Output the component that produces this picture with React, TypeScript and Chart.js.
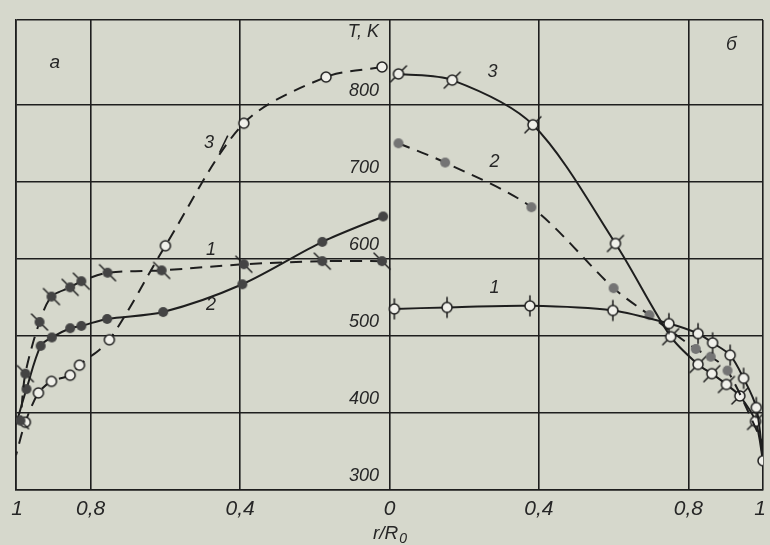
import React, { useEffect, useRef } from "react";
import { Chart, registerables } from "chart.js";
Chart.register(...registerables);

// ---- data (r/R0, T in K) ----
// Panel "а" (left, r/R0 runs from 1 on the left to 0 in the middle; plotted at x = -r)
const leftR1 = [0.02, 0.18, 0.39, 0.61, 0.755, 0.825, 0.855, 0.905, 0.937, 0.975, 0.988];
const leftT1 = [597, 597, 593, 585, 582, 571, 563, 551, 518, 451, 390];
const leftR2 = [0.017, 0.18, 0.394, 0.606, 0.756, 0.825, 0.855, 0.904, 0.934, 0.972, 1.0];
const leftT2 = [655, 622, 567, 531, 522, 513, 510, 498, 487, 431, 385];
const leftR3 = [0.02, 0.17, 0.39, 0.6, 0.75, 0.83, 0.855, 0.905, 0.94, 0.975, 1.0];
const leftT3 = [849, 836, 776, 617, 495, 462, 449, 441, 426, 388, 345];
// Panel "б" (right, r/R0 from 0 to 1)
const rightR1 = [0.013, 0.154, 0.376, 0.598, 0.748, 0.826, 0.865, 0.912, 0.948, 0.982, 1.0];
const rightT1 = [535, 537, 539, 533, 516, 503, 491, 475, 445, 407, 338];
const rightR2 = [0.024, 0.149, 0.38, 0.6, 0.696, 0.82, 0.86, 0.905, 1.0];
const rightT2 = [750, 725, 667, 562, 527, 483, 473, 455, 360];
const rightR3 = [0.024, 0.168, 0.384, 0.605, 0.753, 0.826, 0.863, 0.902, 0.938, 0.98, 1.0];
const rightT3 = [840, 832, 774, 620, 499, 463, 451, 437, 422, 389, 338];

// axis ticks
const xTickValues = [-1, -0.8, -0.4, 0, 0.4, 0.8, 1];
const xTickLabels = ["1", "0,8", "0,4", "0", "0,4", "0,8", "1"];
const yGridValues = [300, 400, 500, 600, 700, 800, 910];
const yTickLabels = ["300", "400", "500", "600", "700", "800"];

const BG = "#d6d8cc";
const INK = "#1e1e1e";
const TEXT = "#262626";
const FONT = '"Liberation Sans", Arial, sans-serif';

function makeMarker(kind: string): HTMLCanvasElement {
  const c = document.createElement("canvas");
  c.width = 26;
  c.height = 26;
  const g = c.getContext("2d")!;
  const m = 13;
  g.lineWidth = 1.5;
  g.strokeStyle = INK;
  g.lineCap = "round";
  if (kind === "openV") {
    g.beginPath(); g.moveTo(m, m - 10); g.lineTo(m, m + 10); g.stroke();
  }
  if (kind === "openD") {
    g.beginPath(); g.moveTo(m - 8, m + 8); g.lineTo(m + 8, m - 8); g.stroke();
  }
  if (kind === "filledD") {
    g.beginPath(); g.moveTo(m - 8, m - 8); g.lineTo(m + 8, m + 8); g.stroke();
  }
  g.beginPath();
  g.arc(m, m, 5, 0, Math.PI * 2);
  if (kind.startsWith("open")) {
    g.fillStyle = "#f0f0ea";
    g.fill();
    g.stroke();
  } else if (kind === "grey") {
    g.fillStyle = "#747474";
    g.fill();
  } else {
    g.fillStyle = "#444444";
    g.fill();
  }
  return c;
}

function pts(rs: number[], ts: number[], sign: number) {
  return rs.map((r, i) => ({ x: sign * r, y: ts[i] }));
}

function radii(n: number, lastHidden: boolean) {
  return Array.from({ length: n }, (_, i) => (lastHidden && i === n - 1 ? 0 : 5));
}

export default function App() {
  const ref = useRef<HTMLCanvasElement>(null);

  useEffect(() => {
    document.body.style.margin = "0";
    document.body.style.background = BG;
    const mOpen = makeMarker("open");
    const mOpenV = makeMarker("openV");
    const mOpenD = makeMarker("openD");
    const mFilled = makeMarker("filled");
    const mFilledD = makeMarker("filledD");
    const mGrey = makeMarker("grey");

    const line = (data: any[], dash: number[], style: HTMLCanvasElement, r: number[]) => ({
      data,
      showLine: true,
      borderColor: INK,
      borderWidth: 2,
      borderDash: dash,
      tension: 0.3,
      pointStyle: style,
      pointRadius: r,
      pointHoverRadius: r,
      fill: false,
    });

    const annot = {
      id: "annot",
      beforeDraw(chart: any) {
        const { ctx, width, height } = chart;
        ctx.save();
        ctx.fillStyle = BG;
        ctx.fillRect(0, 0, width, height);
        ctx.restore();
      },
      afterDraw(chart: any) {
        const { ctx } = chart;
        const xs = chart.scales.x;
        const ys = chart.scales.y;
        const X = (v: number) => xs.getPixelForValue(v);
        const Y = (v: number) => ys.getPixelForValue(v);
        ctx.save();
        ctx.fillStyle = TEXT;
        // x tick labels
        ctx.font = `italic 21px ${FONT}`;
        ctx.textAlign = "center";
        ctx.textBaseline = "alphabetic";
        xTickValues.forEach((v, i) => {
          let px = X(v);
          if (i === 0) px += 1;
          if (i === xTickValues.length - 1) px -= 3;
          ctx.fillText(xTickLabels[i], px, chart.chartArea.bottom + 25);
        });
        // temperature labels
        ctx.font = `italic 18px ${FONT}`;
        ctx.textAlign = "right";
        yTickLabels.forEach((s) => {
          ctx.fillText(s, X(-0.028), Y(Number(s)) - 9);
        });
        ctx.fillText("T, K", X(-0.028), Y(888));
        // panel letters
        ctx.textAlign = "center";
        ctx.textBaseline = "middle";
        ctx.font = `italic 19px ${FONT}`;
        ctx.fillText("а", X(-0.896), Y(855));
        ctx.fillText("б", X(0.915), Y(878));
        // curve numbers
        ctx.font = `italic 18px ${FONT}`;
        ctx.fillText("3", X(-0.483), Y(750));
        ctx.fillText("1", X(-0.478), Y(612));
        ctx.fillText("2", X(-0.478), Y(540));
        ctx.fillText("3", X(0.276), Y(842));
        ctx.fillText("2", X(0.281), Y(726));
        ctx.fillText("1", X(0.281), Y(562));
        // leader tick next to left "3"
        ctx.strokeStyle = INK;
        ctx.lineWidth = 1.6;
        ctx.beginPath();
        ctx.moveTo(X(-0.455), Y(738));
        ctx.lineTo(X(-0.433), Y(760));
        ctx.stroke();
        // axis title r/R0
        const cx = X(0);
        const by = chart.height - 6;
        ctx.textAlign = "left";
        ctx.textBaseline = "alphabetic";
        ctx.font = `italic 19px ${FONT}`;
        const main = "r/R";
        const w = ctx.measureText(main).width;
        ctx.font = `italic 14px ${FONT}`;
        const w0 = ctx.measureText("0").width;
        const start = cx - (w + w0) / 2;
        ctx.font = `italic 19px ${FONT}`;
        ctx.fillText(main, start, by);
        ctx.font = `italic 14px ${FONT}`;
        ctx.fillText("0", start + w + 1, by + 4);
        ctx.restore();
      },
    };

    const chart = new Chart(ref.current!, {
      type: "scatter",
      data: {
        datasets: [
          line(pts(leftR1, leftT1, -1), [12, 8], mFilledD, radii(leftR1.length, false)),
          line(pts(leftR2, leftT2, -1), [], mFilled, radii(leftR2.length, true)),
          line(pts(leftR3, leftT3, -1), [12, 8], mOpen, radii(leftR3.length, true)),
          line(pts(rightR1, rightT1, 1), [], mOpenV, radii(rightR1.length, false)),
          line(pts(rightR2, rightT2, 1), [12, 8], mGrey, radii(rightR2.length, true)),
          line(pts(rightR3, rightT3, 1), [], mOpenD, radii(rightR3.length, true)),
        ] as any,
      },
      options: {
        animation: false,
        responsive: false,
        maintainAspectRatio: false,
        layout: { padding: { left: 16, right: 3, top: 20, bottom: 55 } },
        plugins: { legend: { display: false }, tooltip: { enabled: false } },
        events: [],
        scales: {
          x: {
            type: "linear",
            min: -1,
            max: 1,
            afterBuildTicks: (s: any) => {
              s.ticks = xTickValues.map((v) => ({ value: v }));
            },
            ticks: { display: false },
            grid: { color: INK, lineWidth: 1.6, drawTicks: false },
            border: { color: INK, width: 1.6 },
          },
          y: {
            type: "linear",
            min: 300,
            max: 910,
            afterBuildTicks: (s: any) => {
              s.ticks = yGridValues.map((v) => ({ value: v }));
            },
            ticks: { display: false },
            grid: { color: INK, lineWidth: 1.6, drawTicks: false },
            border: { color: INK, width: 1.6 },
          },
        },
      },
      plugins: [annot],
    });
    return () => chart.destroy();
  }, []);

  return (
    <div style={{ width: 770, height: 545, background: BG }}>
      <canvas ref={ref} width={770} height={545} style={{ display: "block" }} />
    </div>
  );
}
